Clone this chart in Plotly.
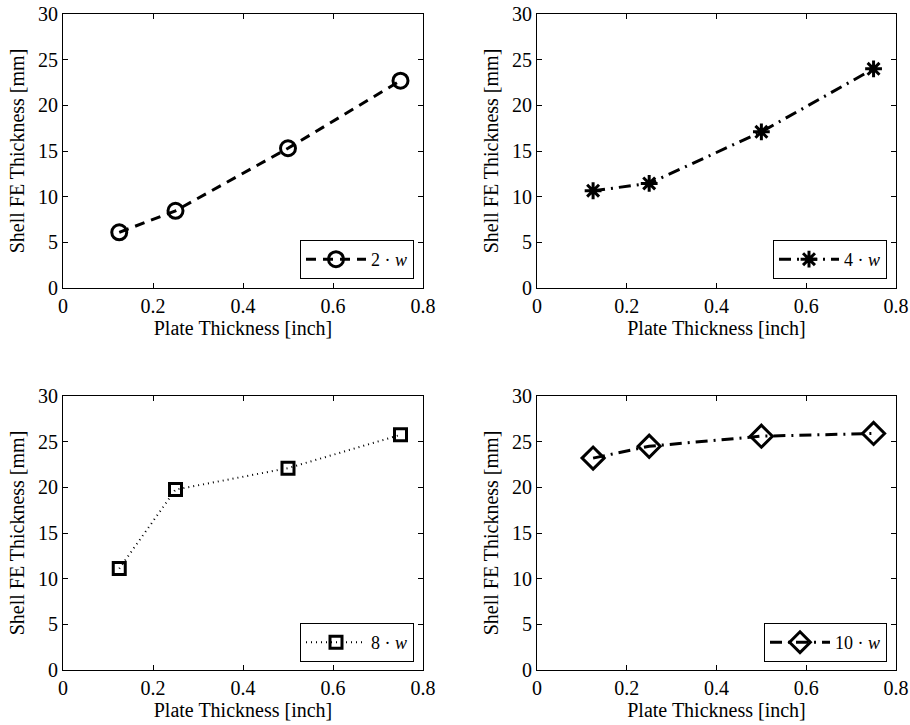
import plotly.graph_objects as go

plate_in = [0.125, 0.25, 0.5, 0.75]
shell_2w = [6.1, 8.45, 15.3, 22.7]
shell_4w = [10.65, 11.45, 17.1, 24.0]
shell_8w = [11.1, 19.75, 22.1, 25.75]
shell_10w = [23.2, 24.5, 25.6, 25.9]
names = ["2 · <i>w</i>", "4 · <i>w</i>", "8 · <i>w</i>", "10 · <i>w</i>"]

W, H = 910, 725
FONT = "Liberation Serif"

# panel boxes in pixels: (left, right, top, bottom)
boxes = [(63, 423, 14, 288), (537, 896, 14, 288),
         (63, 423, 396, 670), (537, 896, 396, 670)]
# legend box right/bottom in pixels
leg_pos = [(414, 279), (887, 279), (414, 662), (887, 662)]

series = [
    (shell_2w, "circle-open", 15, dict(dash="10px,7px", width=3)),
    (shell_4w, "asterisk-open", 14, dict(dash="12px,6px,2px,6px", width=3)),
    (shell_8w, "square-open", 12, dict(dash="1px,4px", width=2)),
    (shell_10w, "diamond-open", 17, dict(dash="12px,6px,2px,6px", width=3)),
]

fig = go.Figure()
layout = {}
for i, ((ys, sym, size, line), (l, r, t, b), (lx, ly), name) in enumerate(
        zip(series, boxes, leg_pos, names)):
    n = "" if i == 0 else str(i + 1)
    fig.add_trace(go.Scatter(
        x=plate_in, y=ys, mode="lines+markers", name=name,
        line=dict(color="black", **line),
        marker=dict(symbol=sym, size=size, color="black",
                    line=dict(width=3, color="black")),
        xaxis="x" + n, yaxis="y" + n, legend="legend" + n,
        showlegend=True,
    ))
    common = dict(showline=True, linecolor="black", linewidth=1, mirror="ticks",
                  ticks="inside", ticklen=5, tickcolor="black", showgrid=False,
                  zeroline=False, automargin=False,
                  tickfont=dict(family=FONT, size=20, color="black"))
    layout["xaxis" + n] = dict(
        domain=[l / W, r / W], range=[0, 0.8], dtick=0.2, tick0=0,
        anchor="y" + n,
        title=dict(text="Plate Thickness [inch]", standoff=4,
                   font=dict(family=FONT, size=20, color="black")),
        **common)
    layout["yaxis" + n] = dict(
        domain=[1 - b / H, 1 - t / H], range=[0, 30], dtick=5, tick0=0,
        anchor="x" + n,
        title=dict(text="Shell FE Thickness [mm]", standoff=8,
                   font=dict(family=FONT, size=20, color="black")),
        **common)
    layout["legend" + n] = dict(
        x=lx / W, y=1 - ly / H, xanchor="right", yanchor="bottom",
        bgcolor="white", bordercolor="black", borderwidth=1,
        itemwidth=60, font=dict(family=FONT, size=18, color="black"),
        tracegroupgap=0)

fig.update_layout(
    width=W, height=H, template="none",
    margin=dict(l=0, r=0, t=0, b=0),
    paper_bgcolor="white", plot_bgcolor="white",
    font=dict(family=FONT, size=20, color="black"),
    **layout,
)
fig.write_html("out.html", config={"displayModeBar": False},
               post_script="document.body.style.margin='0px';")
